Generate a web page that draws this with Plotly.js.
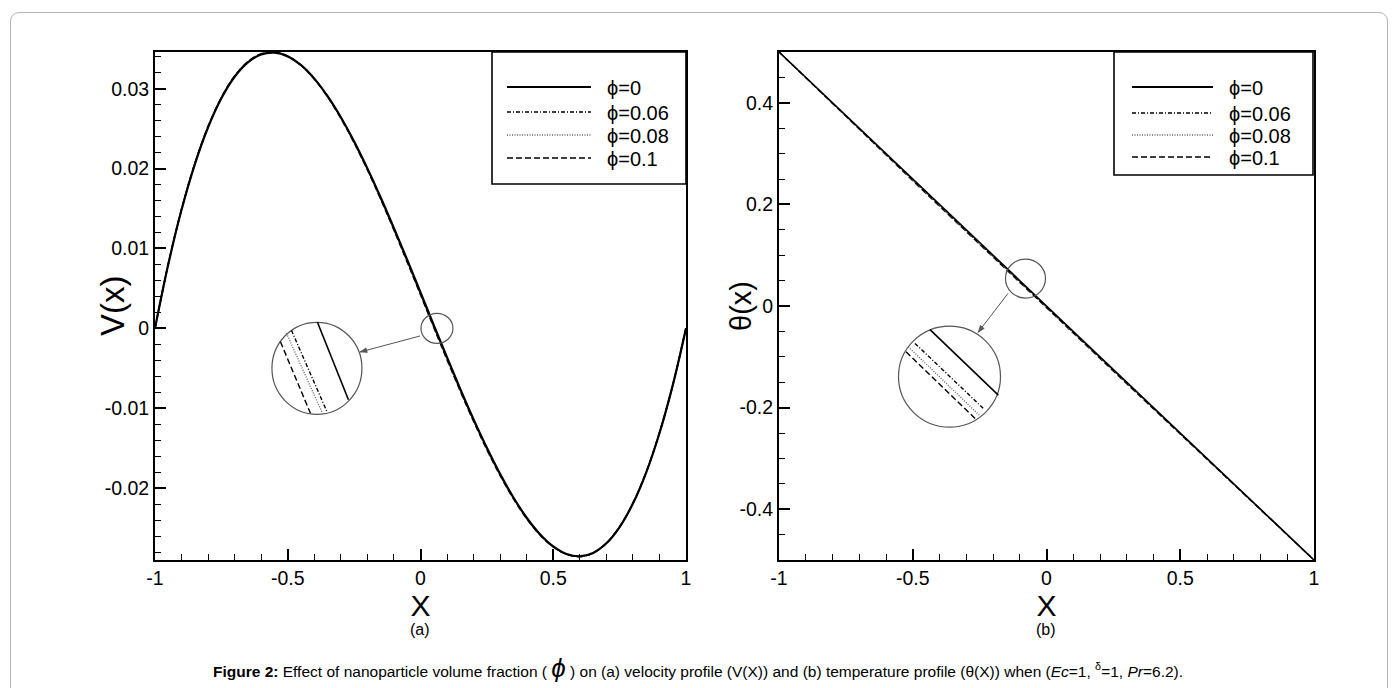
<!DOCTYPE html>
<html>
<head>
<meta charset="utf-8">
<script src="https://cdn.plot.ly/plotly-3.0.1.min.js"></script>
<style>
html,body{margin:0;padding:0;background:#fff;}
#wrap{position:relative;width:1397px;height:688px;overflow:hidden;}
#chart{width:1397px;height:688px;}
#frame{position:absolute;left:10px;top:12px;width:1376px;height:700px;border:1.5px solid #b5b5b5;border-radius:9px;pointer-events:none;}
</style>
</head>
<body>
<div id="wrap"><div id="chart"></div><div id="frame"></div></div>
<script>
// ---- data ----
const seriesNames = ['ϕ=0', 'ϕ=0.06', 'ϕ=0.08', 'ϕ=0.1'];

const xV = [-1,-0.95,-0.9,-0.85,-0.8,-0.75,-0.7,-0.65,-0.6,-0.55,-0.5,-0.45,-0.4,-0.35,-0.3,-0.25,-0.2,-0.15,-0.1,-0.05,0,
            0.05,0.1,0.15,0.2,0.25,0.3,0.35,0.4,0.45,0.5,0.55,0.6,0.65,0.7,0.75,0.8,0.85,0.9,0.95,1];
const V_phi0   = [0,0.00802,0.01484,0.02054,0.02518,0.02881,0.03150,0.03330,0.03429,0.03452,0.03405,0.03295,0.03127,0.02907,0.02643,0.02339,0.02003,0.01639,0.01255,0.00857,0.00450,
                  0.00041,-0.00364,-0.00760,-0.01139,-0.01495,-0.01824,-0.02117,-0.02371,-0.02577,-0.02730,-0.02824,-0.02853,-0.02811,-0.02691,-0.02487,-0.02194,-0.01805,-0.01313,-0.00714,0];
const V_phi006 = [0,0.00805,0.01489,0.02060,0.02524,0.02887,0.03156,0.03336,0.03434,0.03456,0.03407,0.03295,0.03124,0.02902,0.02636,0.02330,0.01992,0.01627,0.01241,0.00842,0.00434,
                  0.00025,-0.00380,-0.00775,-0.01153,-0.01508,-0.01835,-0.02126,-0.02378,-0.02582,-0.02733,-0.02826,-0.02855,-0.02812,-0.02690,-0.02485,-0.02191,-0.01802,-0.01310,-0.00712,0];
const V_phi008 = [0,0.00806,0.01491,0.02062,0.02526,0.02889,0.03158,0.03338,0.03436,0.03457,0.03408,0.03295,0.03123,0.02900,0.02633,0.02327,0.01988,0.01622,0.01236,0.00836,0.00428,
                  0.00019,-0.00386,-0.00781,-0.01158,-0.01513,-0.01839,-0.02130,-0.02381,-0.02584,-0.02735,-0.02827,-0.02856,-0.02813,-0.02690,-0.02484,-0.02190,-0.01801,-0.01309,-0.00711,0];
const V_phi01  = [0,0.00808,0.01494,0.02065,0.02529,0.02892,0.03161,0.03340,0.03438,0.03459,0.03409,0.03295,0.03122,0.02898,0.02630,0.02323,0.01983,0.01616,0.01229,0.00829,0.00420,
                  0.00011,-0.00394,-0.00788,-0.01165,-0.01519,-0.01844,-0.02134,-0.02384,-0.02587,-0.02737,-0.02829,-0.02858,-0.02814,-0.02690,-0.02483,-0.02188,-0.01799,-0.01307,-0.00710,0];

const xT = [-1,-0.9,-0.8,-0.7,-0.6,-0.5,-0.4,-0.3,-0.2,-0.1,0,0.1,0.2,0.3,0.4,0.5,0.6,0.7,0.8,0.9,1];
const T_phi0   = [0.5,0.45,0.4,0.35,0.3,0.25,0.2,0.15,0.1,0.05,0,-0.05,-0.1,-0.15,-0.2,-0.25,-0.3,-0.35,-0.4,-0.45,-0.5];
const T_phi006 = [0.5,0.4494,0.3989,0.3485,0.2982,0.2480,0.1979,0.1478,0.0978,0.0478,-0.0022,-0.0521,-0.1020,-0.1518,-0.2016,-0.2514,-0.3012,-0.3510,-0.4007,-0.4504,-0.5];
const T_phi008 = [0.5,0.4492,0.3985,0.3479,0.2975,0.2472,0.1970,0.1469,0.0969,0.0469,-0.0030,-0.0529,-0.1027,-0.1525,-0.2022,-0.2519,-0.3016,-0.3513,-0.4009,-0.4505,-0.5];
const T_phi01  = [0.5,0.4490,0.3981,0.3474,0.2968,0.2464,0.1961,0.1459,0.0959,0.0459,-0.0040,-0.0538,-0.1036,-0.1533,-0.2029,-0.2525,-0.3021,-0.3516,-0.4011,-0.4506,-0.5];

const xTickVals = [-1,-0.5,0,0.5,1];
const xTickText = ['-1','-0.5','0','0.5','1'];
const vTickVals = [-0.02,-0.01,0,0.01,0.02,0.03];
const vTickText = ['-0.02','-0.01','0','0.01','0.02','0.03'];
const tTickVals = [-0.4,-0.2,0,0.2,0.4];
const tTickText = ['-0.4','-0.2','0','0.2','0.4'];

// ---- styles ----
const styles = [
  {color:'#000', width:2.2, dash:'solid'},
  {color:'#000', width:1.4, dash:'4px,2px,1px,2px'},
  {color:'#666', width:1.4, dash:'1px,1.5px'},
  {color:'#000', width:1.5, dash:'6px,3px'}
];
const FONT = 'Liberation Sans, Arial, Helvetica, sans-serif';

const Vsets = [V_phi0, V_phi006, V_phi008, V_phi01];
const Tsets = [T_phi0, T_phi006, T_phi008, T_phi01];
const traces = [];
[3,2,1,0].forEach(i => {
  traces.push({x:xV, y:Vsets[i], xaxis:'x', yaxis:'y', type:'scatter', mode:'lines', name:seriesNames[i],
    line:Object.assign({shape:'spline'}, styles[i]), showlegend:false, hoverinfo:'skip'});
});
[3,2,1,0].forEach(i => {
  traces.push({x:xT, y:Tsets[i], xaxis:'x2', yaxis:'y2', type:'scatter', mode:'lines', name:seriesNames[i],
    line:Object.assign({}, styles[i], {width: i===0?1.6:1.2}), showlegend:false, hoverinfo:'skip'});
});

const W = 1397, H = 688;
const px = v => v / W, py = v => 1 - v / H;

const axisCommon = {
  showgrid:false, zeroline:false, showline:true, linecolor:'#000', linewidth:2, mirror:true,
  ticks:'inside', ticklen:11, tickwidth:2, tickcolor:'#000',
  tickfont:{family:FONT, size:19.5, color:'#000'}
};

const layout = {
  width:W, height:H, margin:{l:0, r:0, t:0, b:0},
  paper_bgcolor:'#fff', plot_bgcolor:'#fff', showlegend:false,
  xaxis: Object.assign({}, axisCommon, {domain:[px(155), px(686)], range:[-1,1], anchor:'y',
    tickmode:'array', tickvals:xTickVals, ticktext:xTickText,
    minor:{tickmode:'linear', tick0:-1, dtick:0.1, ticks:'inside', ticklen:6, tickwidth:1, tickcolor:'#000'},
    title:{text:'X', font:{family:FONT, size:30, color:'#000'}, standoff:4}}),
  yaxis: Object.assign({}, axisCommon, {domain:[py(560), py(52)], range:[-0.0290, 0.0346], anchor:'x',
    tickmode:'array', tickvals:vTickVals, ticktext:vTickText,
    minor:{tickmode:'linear', tick0:0, dtick:0.002, ticks:'inside', ticklen:6, tickwidth:1, tickcolor:'#000'}}),
  xaxis2: Object.assign({}, axisCommon, {domain:[px(779), px(1314)], range:[-1,1], anchor:'y2',
    tickmode:'array', tickvals:xTickVals, ticktext:xTickText,
    minor:{tickmode:'linear', tick0:-1, dtick:0.1, ticks:'inside', ticklen:6, tickwidth:1, tickcolor:'#000'},
    title:{text:'X', font:{family:FONT, size:30, color:'#000'}, standoff:4}}),
  yaxis2: Object.assign({}, axisCommon, {domain:[py(560), py(52)], range:[-0.5, 0.5], anchor:'x2',
    tickmode:'array', tickvals:tTickVals, ticktext:tTickText,
    minor:{tickmode:'linear', tick0:0, dtick:0.05, ticks:'inside', ticklen:6, tickwidth:1, tickcolor:'#000'}}),
  shapes:[], annotations:[]
};

// y-axis titles placed beside the tick labels, as in the reference
layout.annotations.push({xref:'paper', yref:'paper', x:px(112), y:py(306), text:'V(x)', textangle:-90, showarrow:false,
  xanchor:'center', yanchor:'middle', font:{family:FONT, size:33, color:'#000'}});
layout.annotations.push({xref:'paper', yref:'paper', x:px(741), y:py(306), text:'θ(x)', textangle:-90, showarrow:false,
  xanchor:'center', yanchor:'middle', font:{family:FONT, size:29, color:'#000'}});

// ---- manual legends ----
function addLegend(box, lineX0, lineX1, textX, rows) {
  layout.shapes.push({type:'rect', xref:'paper', yref:'paper', x0:px(box[0]), x1:px(box[1]), y0:py(box[3]), y1:py(box[2]),
    line:{color:'#000', width:1.6}, fillcolor:'#fff', layer:'above'});
  rows.forEach((yy, i) => {
    layout.shapes.push({type:'line', xref:'paper', yref:'paper', x0:px(lineX0), x1:px(lineX1), y0:py(yy), y1:py(yy),
      line:{color:styles[i].color, width:styles[i].width, dash:styles[i].dash}, layer:'above'});
    layout.annotations.push({xref:'paper', yref:'paper', x:px(textX), y:py(yy + 1), xanchor:'left', yanchor:'middle',
      text:seriesNames[i], showarrow:false, font:{family:FONT, size:20, color:'#000'}});
  });
}
addLegend([492, 686, 52, 184], 507, 591, 605, [87, 112, 135, 158]);
addLegend([1114, 1313, 52, 175], 1132, 1213, 1227, [87, 113, 135, 157]);

// ---- zoom insets (anchored in data space, sized in pixels) ----
function circle(xr, yr, ax, ay, rx, ry) {
  layout.shapes.push({type:'circle', xref:xr, yref:yr, xsizemode:'pixel', ysizemode:'pixel', xanchor:ax, yanchor:ay,
    x0:-rx, x1:rx, y0:-ry, y1:ry, line:{color:'#555', width:1.2}, layer:'above'});
}
function insetLine(xr, yr, ax, ay, seg, st) {
  layout.shapes.push({type:'line', xref:xr, yref:yr, xsizemode:'pixel', ysizemode:'pixel', xanchor:ax, yanchor:ay,
    x0:seg[0], y0:seg[1], x1:seg[2], y1:seg[3], line:{color:st.color, width:st.width === 2.2 ? 1.6 : 1.4, dash:st.dash}, layer:'above'});
}
function arrow(xr, yr, ax, ay, tail, headPath) {
  layout.shapes.push({type:'line', xref:xr, yref:yr, xsizemode:'pixel', ysizemode:'pixel', xanchor:ax, yanchor:ay,
    x0:0, y0:0, x1:tail[0], y1:tail[1], line:{color:'#555', width:1}, layer:'above'});
  layout.shapes.push({type:'path', xref:xr, yref:yr, xsizemode:'pixel', ysizemode:'pixel', xanchor:ax, yanchor:ay,
    path:headPath, fillcolor:'#555', line:{color:'#555', width:0.5}, layer:'above'});
}
// left panel
circle('x','y', 0.062, 0.0, 16, 15);
circle('x','y', -0.39, -0.0050, 45, 46);
const leftSegs = [[0.5,46,31.5,-31.5],[-25.5,38,10.5,-44.5],[-30.5,35,5.5,-45],[-36.5,26.5,-6.5,-45]];
leftSegs.forEach((s,i) => insetLine('x','y', -0.39, -0.0050, s, styles[i]));
arrow('x','y', -0.228, -0.00296, [60,16], 'M0,0 L7.4,-0.6 L6.1,4.2 Z');
// right panel
circle('x2','y2', -0.0785, 0.054, 20, 19.5);
circle('x2','y2', -0.3626, -0.139, 51, 50.5);
const rightSegs = [[-19.5,47,48.8,-18.5],[-34.5,33.2,33.8,-31.8],[-41.2,29.8,30.5,-39.2],[-43.5,24.8,26.5,-42.8]];
rightSegs.forEach((s,i) => insetLine('x2','y2', -0.3626, -0.139, s, styles[i]));
arrow('x2','y2', -0.256, -0.052, [30,39], 'M0,0 L6.25,4.03 L2.29,7.07 Z');

// ---- sub-labels and caption ----
layout.annotations.push({xref:'paper', yref:'paper', x:px(420), y:py(629), text:'(a)', showarrow:false,
  xanchor:'center', yanchor:'middle', font:{family:FONT, size:16, color:'#000'}});
layout.annotations.push({xref:'paper', yref:'paper', x:px(1046), y:py(629), text:'(b)', showarrow:false,
  xanchor:'center', yanchor:'middle', font:{family:FONT, size:16, color:'#000'}});
layout.annotations.push({xref:'paper', yref:'paper', x:px(698), y:py(668), showarrow:false, xanchor:'center', yanchor:'middle',
  font:{family:FONT, size:15.5, color:'#000'},
  text:'<b>Figure 2:</b> Effect of nanoparticle volume fraction ( <span style="font-size:26px;font-style:italic">ϕ</span> ) on (a) velocity profile (V(X)) and (b) temperature profile (θ(X)) when (<i>Ec</i>=1, <sup>δ</sup>=1, <i>Pr</i>=6.2).'});

Plotly.newPlot('chart', traces, layout, {staticPlot:true, displayModeBar:false}).then(() => {
  // remove invisible helper/placeholder text nodes that draw nothing
  document.querySelectorAll('text').forEach(t => {
    const r = t.getBoundingClientRect();
    if (!t.textContent.trim() || r.width === 0 || r.height === 0) t.remove();
  });
});
</script>
</body>
</html>
